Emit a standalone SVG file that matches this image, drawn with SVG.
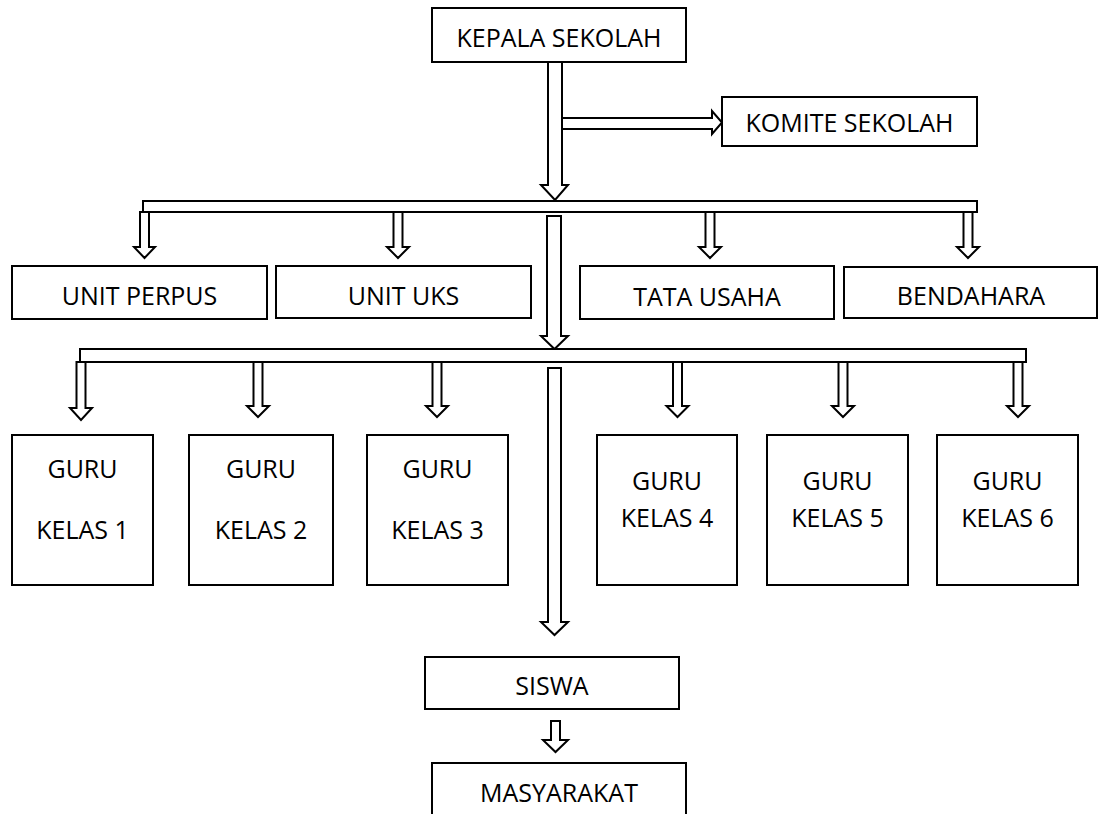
<svg xmlns="http://www.w3.org/2000/svg" width="1098" height="814" viewBox="0 0 1098 814">
<style>
.box{fill:#fff;stroke:#000;stroke-width:2}
.arr{fill:#fff;stroke:#000;stroke-width:2;stroke-linejoin:miter}
text{font-family:"Open Sans","Noto Sans","Liberation Sans",sans-serif;font-size:25px;fill:#000;text-anchor:middle}
</style>
<rect width="1098" height="814" fill="#fff"/>
<g id="connectors">
<polygon class="arr" points="548,62 562,62 562,185 568,185 555,200 541,185 548,185"/>
<polygon class="arr" points="562,118 712,118 712,111 722,122.5 712,134 712,129 562,129"/>
<rect class="arr" x="143" y="201" width="834" height="11"/>
<polygon class="arr" points="140,212 149,212 149,247 155,247 144.5,258 134,247 140,247"/>
<polygon class="arr" points="393.5,212 402.5,212 402.5,247 409,247 398,258 387,247 393.5,247"/>
<polygon class="arr" points="705.5,212 714.5,212 714.5,247 721,247 710,258 699,247 705.5,247"/>
<polygon class="arr" points="963.5,212 972.5,212 972.5,247 979,247 968,258 957,247 963.5,247"/>
<polygon class="arr" points="547,216 561,216 561,336 568,336 554.5,349 541,336 547,336"/>
<rect class="arr" x="80" y="349" width="946" height="13"/>
<polygon class="arr" points="76.5,362 85.5,362 85.5,408 92,408 81,420 70,408 76.5,408"/>
<polygon class="arr" points="253.5,362 262.5,362 262.5,406 269,406 258,417 247,406 253.5,406"/>
<polygon class="arr" points="432.5,362 441.5,362 441.5,406 448,406 437,417 426,406 432.5,406"/>
<polygon class="arr" points="673,362 682,362 682,406 688.5,406 677.5,417 666.5,406 673,406"/>
<polygon class="arr" points="838.5,362 847.5,362 847.5,406 854,406 843,417 832,406 838.5,406"/>
<polygon class="arr" points="1013.5,362 1022.5,362 1022.5,406 1029,406 1018,417 1007,406 1013.5,406"/>
<polygon class="arr" points="548,368 561,368 561,622 568,622 554.5,635 541,622 548,622"/>
<polygon class="arr" points="551,721 560,721 560,740 568,740 555.5,752 543,740 551,740"/>
</g>
<g id="kepala"><rect class="box" x="432" y="8" width="254" height="54"/><text x="559" y="47">KEPALA SEKOLAH</text></g>
<g id="komite"><rect class="box" x="722" y="97" width="255" height="49"/><text x="849.5" y="132">KOMITE SEKOLAH</text></g>
<g id="perpus"><rect class="box" x="12" y="266" width="255" height="53"/><text x="139.5" y="305">UNIT PERPUS</text></g>
<g id="uks"><rect class="box" x="276" y="266" width="255" height="52"/><text x="403.5" y="305">UNIT UKS</text></g>
<g id="tatausaha"><rect class="box" x="580" y="266" width="254" height="53"/><text x="707" y="306">TATA USAHA</text></g>
<g id="bendahara"><rect class="box" x="844" y="267" width="253" height="51"/><text x="971" y="305">BENDAHARA</text></g>
<g id="guru1"><rect class="box" x="12" y="435" width="141" height="150"/><text x="82.5" y="478">GURU</text><text x="82.5" y="539">KELAS 1</text></g>
<g id="guru2"><rect class="box" x="189" y="435" width="144" height="150"/><text x="261" y="478">GURU</text><text x="261" y="539">KELAS 2</text></g>
<g id="guru3"><rect class="box" x="367" y="435" width="141" height="150"/><text x="437.5" y="478">GURU</text><text x="437.5" y="539">KELAS 3</text></g>
<g id="guru4"><rect class="box" x="597" y="435" width="140" height="150"/><text x="667" y="490">GURU</text><text x="667" y="527">KELAS 4</text></g>
<g id="guru5"><rect class="box" x="767" y="435" width="141" height="150"/><text x="837.5" y="490">GURU</text><text x="837.5" y="527">KELAS 5</text></g>
<g id="guru6"><rect class="box" x="937" y="435" width="141" height="150"/><text x="1007.5" y="490">GURU</text><text x="1007.5" y="527">KELAS 6</text></g>
<g id="siswa"><rect class="box" x="425" y="657" width="254" height="52"/><text x="552" y="695">SISWA</text></g>
<g id="masyarakat"><rect class="box" x="432" y="763" width="254" height="60"/><text x="559" y="802">MASYARAKAT</text></g>
</svg>
